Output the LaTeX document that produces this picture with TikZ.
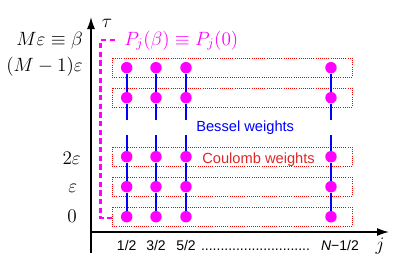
\documentclass[tikz,border=0pt]{standalone}
\usepackage{amsmath,amssymb}
\usepackage{fontspec}
\setsansfont{Liberation Sans}
\usetikzlibrary{arrows.meta}
\definecolor{coulred}{RGB}{220,40,40}
\definecolor{pbcmag}{RGB}{255,0,255}
\definecolor{bondblue}{RGB}{0,0,255}
\definecolor{slicered}{RGB}{255,0,0}

\begin{document}
\begin{tikzpicture}[x=0.75pt,y=-0.75pt,
  every node/.style={font=\fontsize{14}{16}\selectfont,inner sep=0pt},
  site/.style={circle,fill=pbcmag,minimum size=8.6pt},
  slice/.style={draw=slicered,densely dotted,line width=0.6pt},
  bond/.style={bondblue,line width=1.6pt},
  axis/.style={line width=1.1pt,-{Latex[length=9pt,width=6pt]}},
  ticklbl/.style={anchor=base,font=\fontsize{10.5}{12}\sffamily},
  weightlbl/.style={anchor=base west,font=\fontsize{11}{13}\sffamily}]
  \useasboundingbox (0,0) rectangle (399,258);
  % time slices
  \foreach \y in {67.7,97.7,156.7,186.7,216.7}
    \draw[slice] (112,\y-9.5) rectangle (352,\y+9.5);
  % axes
  \coordinate (tau-foot) at (91,253);
  \coordinate (tau-tip) at (91,17);
  \coordinate (j-foot) at (91,232);
  \coordinate (j-tip) at (389,232);
  \draw[axis] (tau-foot) -- (tau-tip);
  \draw[axis] (j-foot) -- (j-tip);
  % world lines
  \foreach \c/\x in {1/126.7,2/156,3/186,4/331}{
    \foreach \r/\y in {1/67.7,2/97.7,3/156.7,4/186.7,5/216.7}
      \node[site] (d\c\r) at (\x,\y) {};
    \coordinate (gt\c) at (\x,120);
    \coordinate (gb\c) at (\x,135);
    \draw[bond] (d\c1) -- (d\c2) -- (gt\c);
    \draw[bond] (gb\c) -- (d\c3) -- (d\c4) -- (d\c5);
  }
  % periodic boundary
  \coordinate (pb-top) at (115,40);
  \coordinate (pb-a) at (100.5,40);
  \coordinate (pb-b) at (100.5,218);
  \coordinate (pb-end) at (112,218);
  \draw[pbcmag,line width=1.7pt,dash pattern=on 4pt off 2.5pt] (pb-top) -- (pb-a) -- (pb-b) -- (pb-end);
  \node[anchor=base west,text=pbcmag] (pbc) at (124,45) {$P_j(\beta)\equiv P_j(0)$};
  % labels
  \node[anchor=base east] (lM) at (83,45) {$M\varepsilon\equiv\beta$};
  \node[anchor=base east] (lM1) at (83,71) {$(M-1)\varepsilon$};
  \node[anchor=base east] (l2) at (81,164) {$2\varepsilon$};
  \node[anchor=base east] (l1) at (77.5,192) {$\varepsilon$};
  \node[anchor=base east] (l0) at (77,222) {$0$};
  \node[anchor=base] (ltau) at (107,27) {$\tau$};
  \node[anchor=base] (lj) at (380,250) {$j$};
  \node[ticklbl] (t1) at (126.7,250) {1/2};
  \node[ticklbl] (t2) at (156,250) {3/2};
  \node[ticklbl] (t3) at (186,250) {5/2};
  \node[ticklbl] (tdots) at (255.5,250) {............................};
  \node[ticklbl] (tN) at (340,250) {\textit{N}\/−1/2};
  \node[weightlbl,text=bondblue] (bessel) at (196,131.5) {Bessel weights};
  \node[weightlbl,text=coulred] (coulomb) at (202,163) {Coulomb weights};
\end{tikzpicture}
\end{document}
